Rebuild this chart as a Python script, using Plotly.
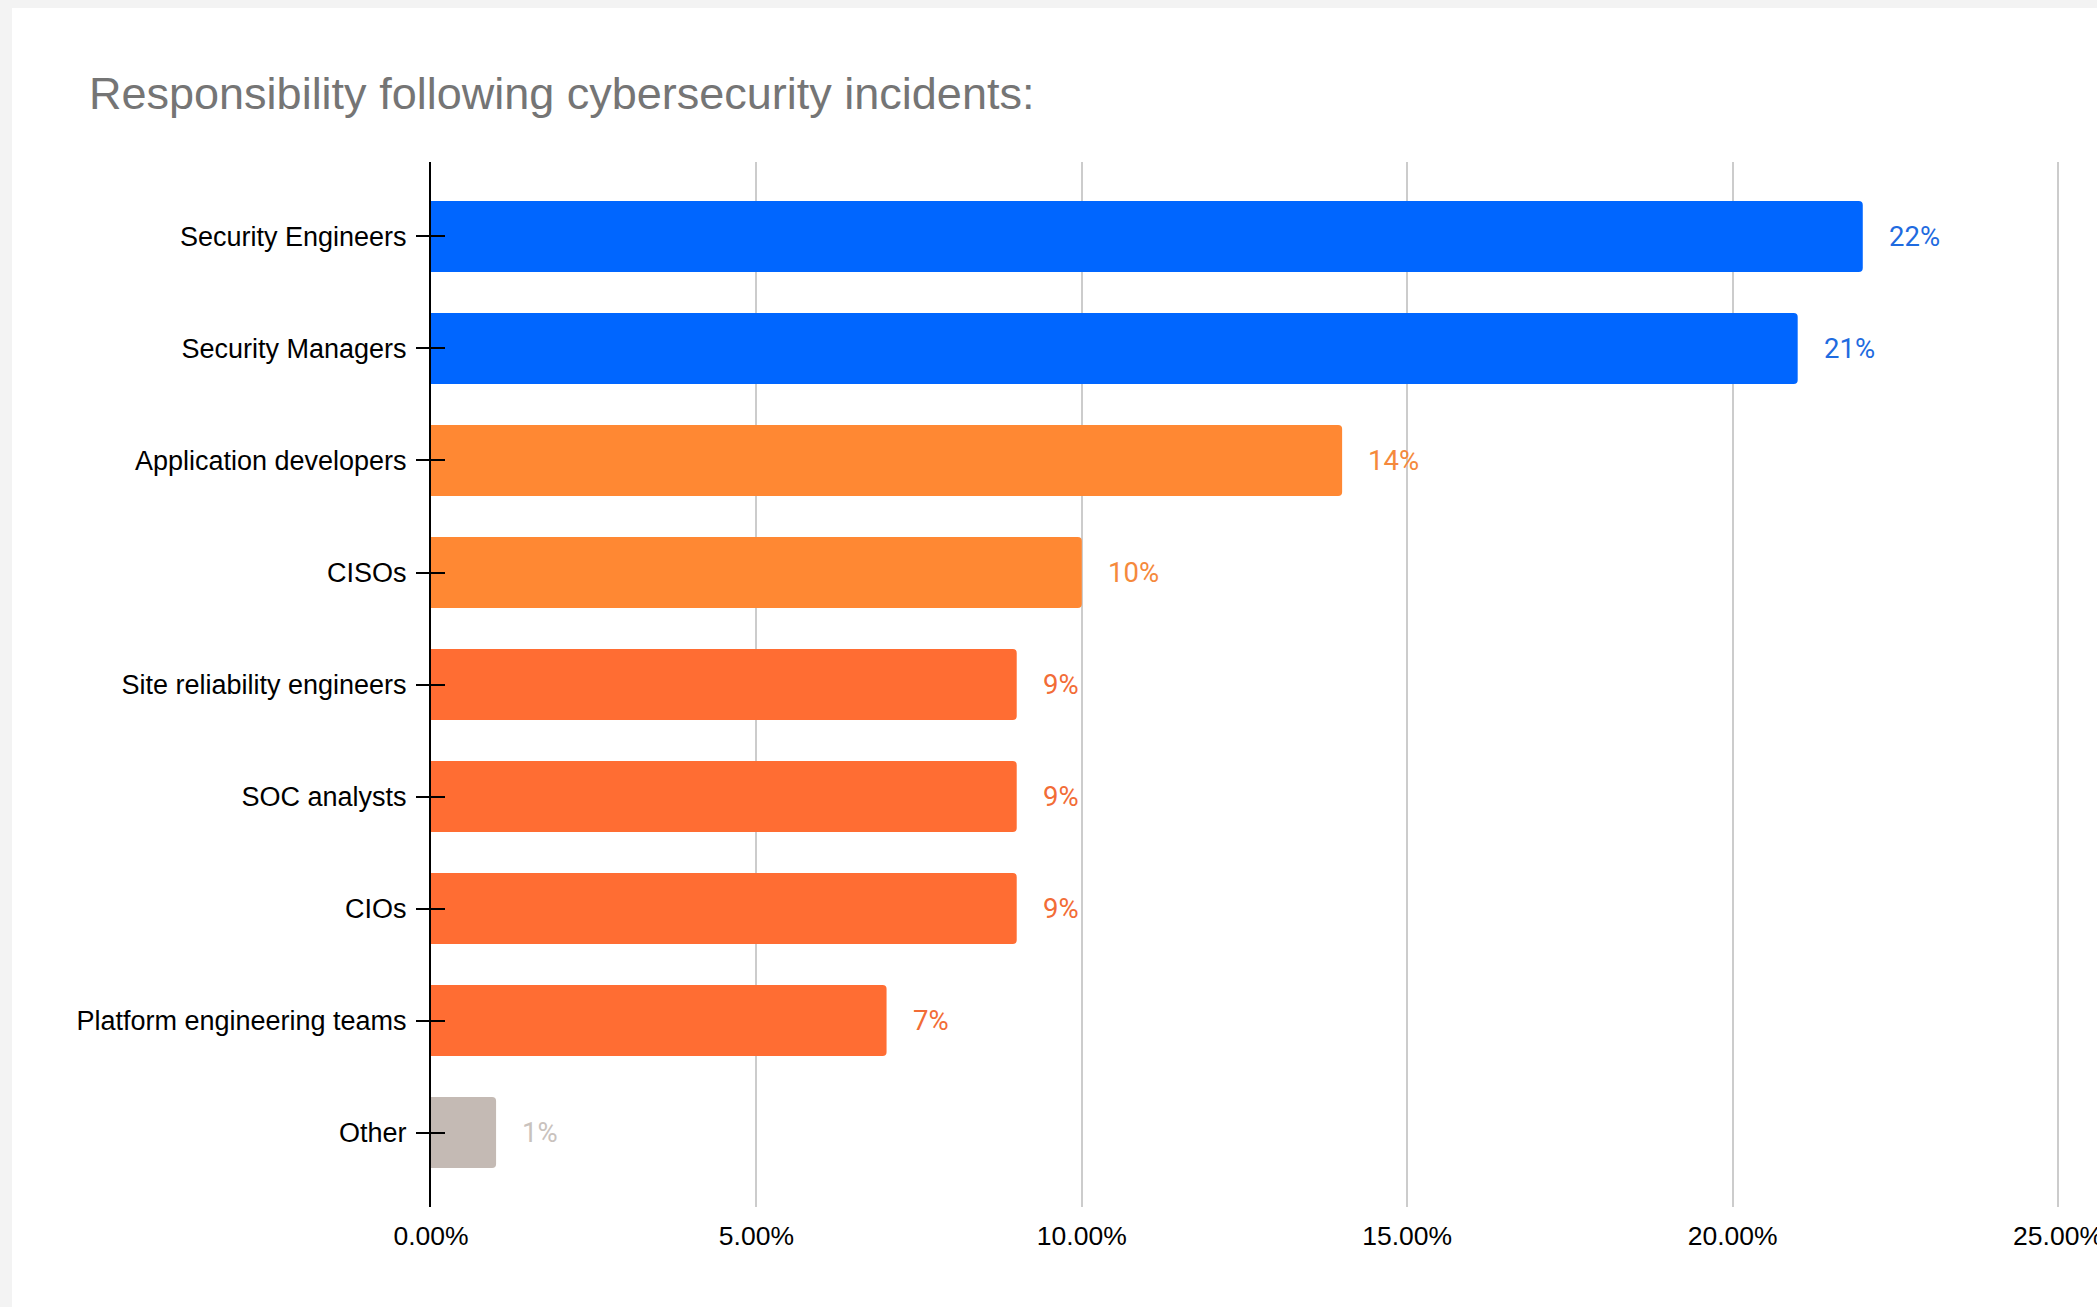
import plotly.graph_objects as go

categories = [
    "Security Engineers",
    "Security Managers",
    "Application developers",
    "CISOs",
    "Site reliability engineers",
    "SOC analysts",
    "CIOs",
    "Platform engineering teams",
    "Other",
]
values = [22, 21, 14, 10, 9, 9, 9, 7, 1]
bar_colors = ["#0066FF", "#0066FF", "#FF8833", "#FF8833", "#FF6D33",
              "#FF6D33", "#FF6D33", "#FF6D33", "#C4BAB4"]
label_colors = ["#1F6BE0", "#1F6BE0", "#F5893C", "#F5893C", "#F26C36",
                "#F26C36", "#F26C36", "#F26C36", "#C9C2BD"]
x_tickvals = [0, 5, 10, 15, 20, 25]
x_ticktext = ["0.00%", "5.00%", "10.00%", "15.00%", "20.00%", "25.00%"]
title_text = "Responsibility following cybersecurity incidents:"

W, H = 2097, 1307
ML, MR, MT, MB = 431, 36, 162, 100
PW, PH = W - ML - MR, H - MT - MB
X_MAX = 25.046

X_FONT = dict(family="Liberation Sans, Arial, sans-serif", size=26.5, color="#000000")
Y_FONT = dict(family="Liberation Sans, Arial, sans-serif", size=27, color="#000000")

fig = go.Figure()
fig.add_trace(go.Bar(
    x=values, y=categories, orientation="h",
    marker=dict(color=bar_colors, line=dict(width=0)),
    hoverinfo="x+y", showlegend=False,
))
# invisible helper on overlay axis to draw the inner half of the cross ticks
fig.add_trace(go.Scatter(
    x=values, y=categories, yaxis="y2", mode="markers",
    marker=dict(opacity=0), hoverinfo="skip", showlegend=False,
))

yrange = [len(categories) - 1 + 0.665, -0.665]

for v, c, col in zip(values, categories, label_colors):
    fig.add_annotation(
        x=v, y=c, xref="x", yref="y", text=f"{v}%", showarrow=False,
        xanchor="left", yanchor="middle", xshift=24,
        font=dict(family="Roboto, sans-serif", size=27.5, color=col),
    )

fig.add_shape(
    type="rect", xref="paper", yref="paper", layer="below",
    x0=(12 - ML) / PW, x1=1.2, y0=-0.3, y1=(H - 8 - MB) / PH,
    fillcolor="#FFFFFF", line=dict(width=0),
)

fig.update_layout(
    width=W, height=H,
    margin=dict(l=ML, r=MR, t=MT, b=MB, pad=0),
    paper_bgcolor="#F3F3F3", plot_bgcolor="#FFFFFF",
    bargap=0.366, barcornerradius=4,
    title=dict(
        text=title_text, x=89 / W, xanchor="left", xref="container",
        y=1 - 93 / H, yanchor="middle", yref="container",
        font=dict(family="Liberation Sans, Arial, sans-serif", size=45, color="#757575"),
    ),
    xaxis=dict(
        range=[0, X_MAX], tickvals=x_tickvals, ticktext=x_ticktext,
        showgrid=True, gridcolor="#CCCCCC", gridwidth=2,
        zeroline=False, showline=False, ticks="",
        tickfont=X_FONT, ticklabelstandoff=10, ticklabeloverflow="allow",
        automargin=False,
    ),
    yaxis=dict(
        type="category", categoryorder="array", categoryarray=categories,
        range=yrange, showgrid=False, zeroline=False,
        showline=True, linecolor="#000000", linewidth=2,
        ticks="outside", ticklen=13, tickwidth=2, tickcolor="#000000",
        tickfont=Y_FONT, ticklabelstandoff=4,
    ),
    yaxis2=dict(
        type="category", categoryorder="array", categoryarray=categories,
        range=yrange, overlaying="y", side="left", showgrid=False,
        zeroline=False, showline=False, showticklabels=False,
        ticks="inside", ticklen=14, tickwidth=2, tickcolor="#000000",
    ),
)

fig.write_html(
    "out.html",
    config={"displayModeBar": False},
    post_script="document.body.style.margin='0';document.body.style.overflow='hidden';",
)
